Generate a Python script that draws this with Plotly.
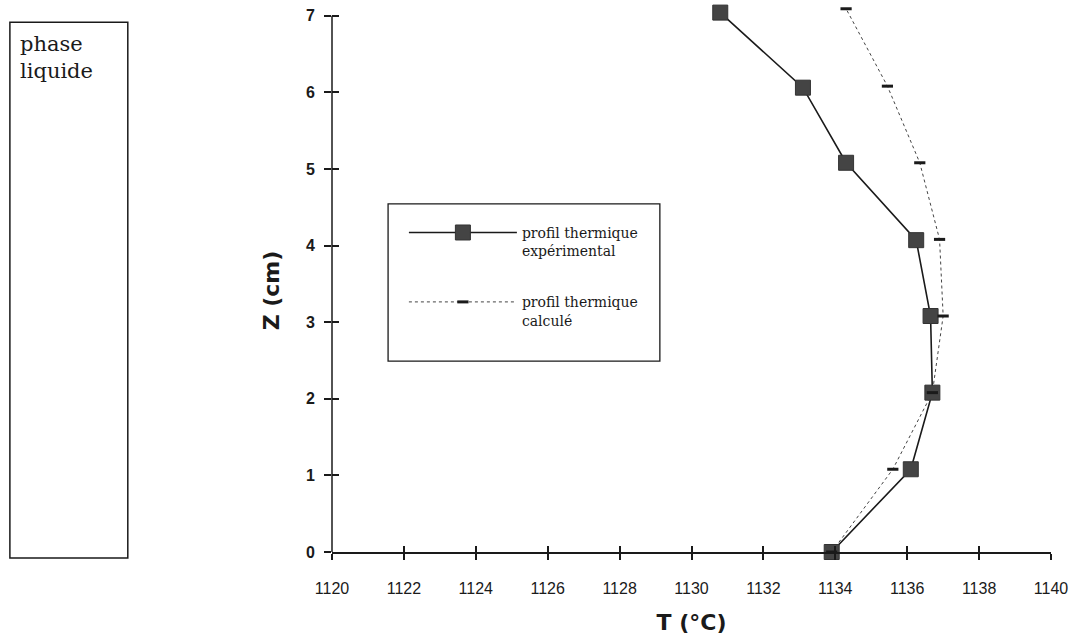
import plotly.graph_objects as go

# temperature profile along the melt height
T_EXP = [1133.9, 1136.1, 1136.7, 1136.65, 1136.25, 1134.3, 1133.1, 1130.8]
Z_EXP = [0.0, 1.08, 2.08, 3.08, 4.07, 5.08, 6.06, 7.04]
T_CALC = [1133.9, 1135.6, 1136.7, 1137.0, 1136.9, 1136.35, 1135.45, 1134.3]
Z_CALC = [0.0, 1.08, 2.08, 3.08, 4.08, 5.08, 6.08, 7.09]

X_TICKS = [1120, 1122, 1124, 1126, 1128, 1130, 1132, 1134, 1136, 1138, 1140]
Y_TICKS = [0, 1, 2, 3, 4, 5, 6, 7]

INK = "#1a1a1a"
SERIF = "DejaVu Serif"
SANS = "Liberation Sans"
BOLD_SANS = "DejaVu Sans"
PAD = "&nbsp;" * 3

fig = go.Figure()

fig.add_trace(go.Scatter(
    x=T_EXP, y=Z_EXP, mode="lines+markers",
    name="profil thermique" + PAD + "<br>expérimental", legendgroup="exp",
    line={"color": INK, "width": 1.6},
    marker={"symbol": "square", "size": 15, "color": "#444", "line": {"color": "#333", "width": 1}},
    cliponaxis=False,
))
fig.add_trace(go.Scatter(
    x=T_CALC, y=Z_CALC, mode="lines+markers",
    name="profil thermique" + PAD + "<br>calculé", legendgroup="calc",
    line={"color": "#444", "width": 1, "dash": "dot"},
    marker={"symbol": "line-ew", "size": 8, "line": {"color": INK, "width": 3}},
    cliponaxis=False,
))
# invisible helper so the overlay axes (inner half of the crossing ticks) get drawn
fig.add_trace(go.Scatter(
    x=T_EXP, y=Z_EXP, xaxis="x2", yaxis="y2", mode="markers",
    marker={"opacity": 0}, showlegend=False, hoverinfo="skip",
))

axis_common = dict(showgrid=False, zeroline=False, linecolor=INK, linewidth=1.5,
                   tickcolor=INK, tickwidth=1.5, automargin=False)
Y_RANGE = [0, 7.1]

fig.update_layout(
    width=1072, height=642,
    margin={"l": 332, "r": 21, "t": 8, "b": 90},
    paper_bgcolor="white", plot_bgcolor="white",
    showlegend=True,
    legend={
        "x": 0.100, "y": 0.616, "xanchor": "left", "yanchor": "top",
        "borderwidth": 0, "bgcolor": "rgba(0,0,0,0)", "valign": "top",
        "font": {"family": SERIF, "size": 14, "color": INK},
        "itemwidth": 108, "tracegroupgap": 30, "traceorder": "grouped",
    },
    xaxis=dict(
        range=[1120, 1140], tickvals=X_TICKS, ticks="outside", ticklen=6,
        showline=True, ticklabelstandoff=15, ticklabeloverflow="allow",
        tickfont={"family": SANS, "size": 16, "color": INK},
        title={"text": "<b>T (°C)</b>", "font": {"family": BOLD_SANS, "size": 22, "color": INK},
               "standoff": 19},
        **axis_common,
    ),
    yaxis=dict(
        range=Y_RANGE, tickvals=Y_TICKS, ticks="outside", ticklen=7,
        showline=False, ticklabelstandoff=6, ticklabeloverflow="allow",
        tickfont={"family": SANS, "size": 16, "color": INK, "weight": "bold"},
        title={"text": "<b>Z (cm)</b>&nbsp;&nbsp;&nbsp;",
               "font": {"family": BOLD_SANS, "size": 22, "color": INK}, "standoff": 20},
        **axis_common,
    ),
    xaxis2=dict(range=[1120, 1140], tickvals=X_TICKS, ticks="inside", ticklen=6,
                overlaying="x", anchor="y2", showticklabels=False, showline=False,
                **axis_common),
    yaxis2=dict(range=Y_RANGE, tickvals=Y_TICKS, ticks="inside", ticklen=7,
                overlaying="y", anchor="x2", showticklabels=False, showline=False,
                **axis_common),
)

# vertical axis line stops at the last tick (7)
fig.add_shape(type="line", xref="paper", yref="y", x0=0, x1=0, y0=0, y1=7,
              line={"color": INK, "width": 1.5})
# legend frame
fig.add_shape(type="rect", xref="paper", yref="paper",
              x0=0.078, x1=0.456, y0=0.351, y1=0.640,
              line={"color": INK, "width": 1.3}, fillcolor="rgba(0,0,0,0)")
# "phase liquide" box on the left of the figure
fig.add_shape(type="rect", xref="paper", yref="paper",
              x0=-0.448, x1=-0.284, y0=-0.011, y1=0.974,
              line={"color": INK, "width": 1.5}, fillcolor="rgba(0,0,0,0)")
fig.add_annotation(text="phase<br>liquide", xref="paper", yref="paper",
                   x=-0.437, y=0.960, xanchor="left", yanchor="top", showarrow=False,
                   align="left", font={"family": SERIF, "size": 21, "color": INK})

fig.write_html("out.html", config={"displayModeBar": False},
               post_script="document.body.style.margin='0';")
